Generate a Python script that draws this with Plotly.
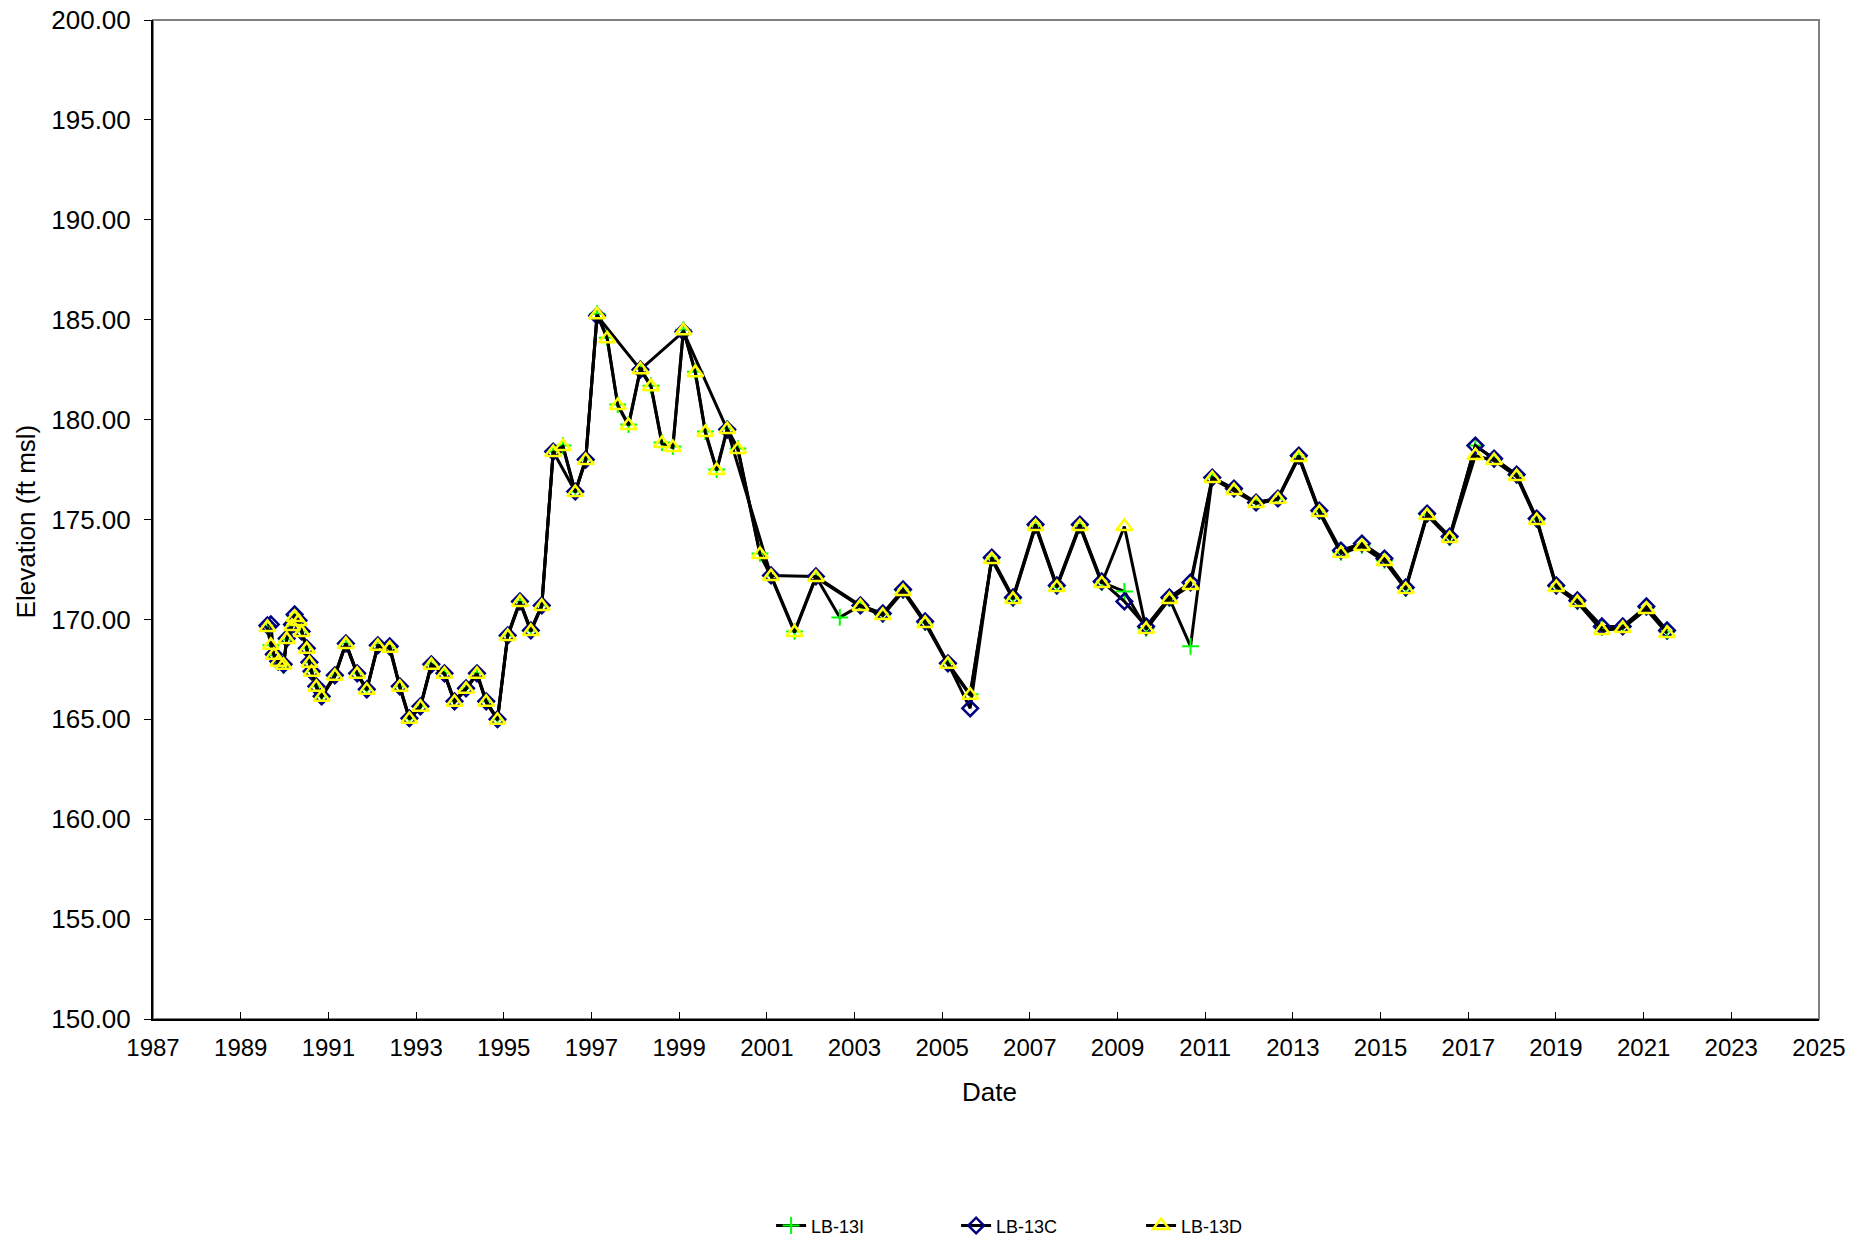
import plotly.graph_objects as go

# ---------------- data ----------------
dates_common_early = [
    "1989-08-11", "1989-09-09", "1989-10-04", "1989-11-10", "1989-12-24",
    "1990-01-19", "1990-03-04", "1990-03-26", "1990-04-28", "1990-05-23",
    "1990-07-05", "1990-07-27", "1990-08-14", "1990-09-23", "1990-11-06",
    "1991-02-24", "1991-05-27", "1991-08-29", "1991-11-17",
    "1992-02-17", "1992-05-26", "1992-08-18", "1992-11-06",
    "1993-02-06", "1993-05-08", "1993-08-25", "1993-11-17",
    "1994-02-21", "1994-05-23", "1994-08-08", "1994-11-10",
    "1995-02-03", "1995-05-16", "1995-08-15", "1995-11-14",
]

dates_d = dates_common_early + [
    "1996-02-17", "1996-05-08", "1996-08-19", "1996-11-14",
    "1997-02-17", "1997-05-12", "1997-08-08", "1997-11-06",
    "1998-02-13", "1998-05-12", "1998-08-11", "1998-11-10",
    "1999-02-06", "1999-05-16", "1999-08-08", "1999-11-10",
    "2000-02-06", "2000-05-05", "2000-11-05",
    "2001-02-05", "2001-08-20", "2002-02-14",
    "2003-02-20", "2003-08-25", "2004-02-10", "2004-08-12",
    "2005-02-18", "2005-08-22", "2006-02-18", "2006-08-14",
    "2007-02-18", "2007-08-14", "2008-02-22", "2008-08-22",
    "2009-02-27", "2009-08-27", "2010-03-09", "2010-09-01",
    "2011-03-01", "2011-08-29", "2012-02-29", "2012-08-29",
    "2013-02-19", "2013-08-09", "2014-02-05", "2014-07-30",
    "2015-02-03", "2015-07-30", "2016-01-24", "2016-07-30",
    "2017-03-01", "2017-08-04", "2018-02-08", "2018-07-25",
    "2019-01-04", "2019-06-29", "2020-01-19", "2020-07-11",
    "2021-01-24", "2021-07-15",
]
values_d = [
    169.60, 168.70, 168.20, 167.85, 167.70,
    169.00, 169.65, 170.10, 169.90, 169.35,
    168.50, 167.80, 167.35, 166.60, 166.10,
    167.15, 168.75, 167.25, 166.45,
    168.65, 168.55, 166.60, 165.00,
    165.60, 167.70, 167.25, 165.85,
    166.50, 167.25, 165.85, 164.95,
    169.15, 170.85, 169.40, 170.65,
    178.35, 178.65, 176.35, 177.95,
    185.25, 184.05, 180.70, 179.70,
    182.50, 181.65, 178.80, 178.60,
    184.45, 182.35, 179.35, 177.45,
    179.50, 178.50, 173.25,
    172.15, 169.35, 172.10,
    170.65, 170.20, 171.40, 169.80,
    167.75, 166.20, 173.00, 171.00,
    174.65, 171.60, 174.65, 171.80,
    174.65, 169.50, 171.00, 171.70,
    177.05, 176.45, 175.80, 176.00,
    178.10, 175.35, 173.30, 173.65,
    172.90, 171.50, 175.20, 174.05,
    178.20, 177.95, 177.15, 174.95,
    171.60, 170.85, 169.45, 169.55,
    170.50, 169.30,
]

dates_i = dates_common_early + [
    "1996-02-17", "1996-05-08", "1996-08-19", "1996-11-14",
    "1997-02-17", "1997-05-12", "1997-08-08", "1997-11-06",
    "1998-02-13", "1998-05-12", "1998-08-11", "1998-11-10",
    "1999-02-06", "1999-05-16", "1999-08-08", "1999-11-10",
    "2000-02-06", "2000-05-05", "2000-11-05",
    "2001-02-05", "2001-08-20", "2002-02-14", "2002-09-01",
    "2003-02-20", "2003-08-25", "2004-02-10", "2004-08-12",
    "2005-02-18", "2005-08-22", "2006-02-18", "2006-08-14",
    "2007-02-18", "2007-08-14", "2008-02-22", "2008-08-22",
    "2009-02-27", "2009-08-27", "2010-03-09", "2010-09-01",
    "2011-03-01", "2011-08-29", "2012-02-29", "2012-08-29",
    "2013-02-19", "2013-08-09", "2014-02-05", "2014-07-30",
    "2015-02-03", "2015-07-30", "2016-01-24", "2016-07-30",
    "2017-03-01", "2017-08-04", "2018-02-08", "2018-07-25",
    "2019-01-04", "2019-06-29", "2020-01-19", "2020-07-11",
    "2021-01-24", "2021-07-15",
]
values_i = [
    169.65, 168.70, 168.20, 167.85, 167.70,
    169.00, 169.70, 170.20, 169.95, 169.40,
    168.55, 167.85, 167.40, 166.65, 166.15,
    167.20, 168.80, 167.30, 166.50,
    168.70, 168.60, 166.65, 165.05,
    165.65, 167.75, 167.30, 165.90,
    166.55, 167.30, 165.90, 165.00,
    169.20, 170.90, 169.45, 170.70,
    178.40, 178.70, 176.40, 178.00,
    185.30, 184.10, 180.75, 179.75,
    182.55, 181.70, 178.85, 178.65,
    184.50, 182.40, 179.40, 177.50,
    179.55, 178.55, 173.30,
    172.20, 169.40, 172.15, 170.10,
    170.70, 170.25, 171.45, 169.85,
    167.80, 166.25, 173.05, 171.05,
    174.70, 171.65, 174.70, 171.85,
    171.40, 169.55, 171.05, 168.65,
    177.10, 176.50, 175.85, 176.05,
    178.15, 175.40, 173.35, 173.70,
    172.95, 171.55, 175.25, 174.10,
    178.70, 178.00, 177.20, 175.00,
    171.65, 170.90, 169.60, 169.65,
    170.60, 169.40,
]

dates_c = dates_common_early + [
    "1996-02-17", "1996-08-19", "1996-11-14",
    "1997-02-17", "1998-02-13", "1999-02-06", "2000-02-06",
    "2001-02-05", "2002-02-14",
    "2003-02-20", "2003-08-25", "2004-02-10", "2004-08-12",
    "2005-02-18", "2005-08-22", "2006-02-18", "2006-08-14",
    "2007-02-18", "2007-08-14", "2008-02-22", "2008-08-22",
    "2009-02-27", "2009-08-27", "2010-03-09", "2010-09-01",
    "2011-03-01", "2011-08-29", "2012-02-29", "2012-08-29",
    "2013-02-19", "2013-08-09", "2014-02-05", "2014-07-30",
    "2015-02-03", "2015-07-30", "2016-01-24", "2016-07-30",
    "2017-03-01", "2017-08-04", "2018-02-08", "2018-07-25",
    "2019-01-04", "2019-06-29", "2020-01-19", "2020-07-11",
    "2021-01-24", "2021-07-15",
]
values_c = [
    169.70, 169.75, 168.25, 167.90, 167.75,
    169.05, 169.75, 170.25, 169.95, 169.40,
    168.55, 167.85, 167.40, 166.65, 166.15,
    167.20, 168.80, 167.30, 166.50,
    168.70, 168.65, 166.65, 165.05,
    165.65, 167.75, 167.30, 165.90,
    166.55, 167.30, 165.90, 165.00,
    169.20, 170.90, 169.45, 170.70,
    178.40, 176.40, 178.00,
    185.20, 182.50, 184.40, 179.50,
    172.20, 172.15,
    170.70, 170.30, 171.50, 169.90,
    167.80, 165.55, 173.10, 171.10,
    174.75, 171.70, 174.75, 171.90,
    170.90, 169.65, 171.10, 171.85,
    177.10, 176.55, 175.85, 176.05,
    178.20, 175.45, 173.45, 173.80,
    173.05, 171.60, 175.30, 174.15,
    178.70, 178.05, 177.25, 175.05,
    171.70, 170.95, 169.65, 169.65,
    170.65, 169.45,
]

series_names = ["LB-13I", "LB-13C", "LB-13D"]
y_ticks = [150, 155, 160, 165, 170, 175, 180, 185, 190, 195, 200]

FONT = "Arial, Liberation Sans, sans-serif"

fig = go.Figure()
fig.add_trace(go.Scatter(
    x=dates_i, y=values_i, name=series_names[0], mode="lines+markers",
    line=dict(color="black", width=3),
    marker=dict(symbol="cross-thin-open", size=12, color="#00FF00",
                line=dict(color="#00FF00", width=2)),
))
fig.add_trace(go.Scatter(
    x=dates_c, y=values_c, name=series_names[1], mode="lines+markers",
    line=dict(color="black", width=3),
    marker=dict(symbol="diamond-open", size=12, color="#000080",
                line=dict(color="#000080", width=2.5)),
))
fig.add_trace(go.Scatter(
    x=dates_d, y=values_d, name=series_names[2], mode="lines+markers",
    line=dict(color="black", width=3),
    marker=dict(symbol="triangle-up-open", size=14, color="#FFFF00",
                line=dict(color="#FFFF00", width=2.5)),
))

# gray plot-area frame (top/right)
fig.add_shape(type="rect", xref="paper", yref="paper", x0=0, y0=0, x1=1, y1=1,
              line=dict(color="#808080", width=2), layer="below")

# axis titles
fig.add_annotation(text="Date", xref="paper", yref="paper", x=0.502, y=-0.073,
                   showarrow=False, xanchor="center", yanchor="middle",
                   font=dict(size=26, family=FONT, color="black"))
fig.add_annotation(text="Elevation (ft msl)", xref="paper", yref="paper", x=-0.076, y=0.4985,
                   showarrow=False, xanchor="center", yanchor="middle", textangle=-90,
                   font=dict(size=26, family=FONT, color="black"))

fig.update_layout(
    width=1866, height=1238,
    margin=dict(l=153, r=47, t=20, b=219, autoexpand=False),
    paper_bgcolor="white", plot_bgcolor="white",
    font=dict(family=FONT, size=24, color="black"),
    showlegend=True,
    legend=dict(orientation="h", x=0.371, xanchor="left", y=-0.207, yanchor="middle",
                font=dict(size=18, family=FONT), entrywidth=140, entrywidthmode="pixels",
                bgcolor="rgba(0,0,0,0)"),
    xaxis=dict(
        type="date", range=["1987-01-01", "2025-01-01"],
        tick0="1987-01-01", dtick="M24", tickformat="%Y",
        showgrid=False, zeroline=False, automargin=False,
        showline=True, linecolor="black", linewidth=2,
        ticks="inside", ticklen=7, tickcolor="black", tickwidth=1,
        ticklabelstandoff=6,
        tickfont=dict(size=24, family=FONT),
    ),
    yaxis=dict(
        range=[150, 200], tickmode="array", tickvals=y_ticks,
        tickformat=".2f",
        showgrid=False, zeroline=False, automargin=False,
        showline=True, linecolor="black", linewidth=2,
        ticks="outside", ticklen=7, tickcolor="black", tickwidth=1,
        ticklabelstandoff=8,
        tickfont=dict(size=26, family=FONT),
    ),
)

fig.write_html("out.html")
